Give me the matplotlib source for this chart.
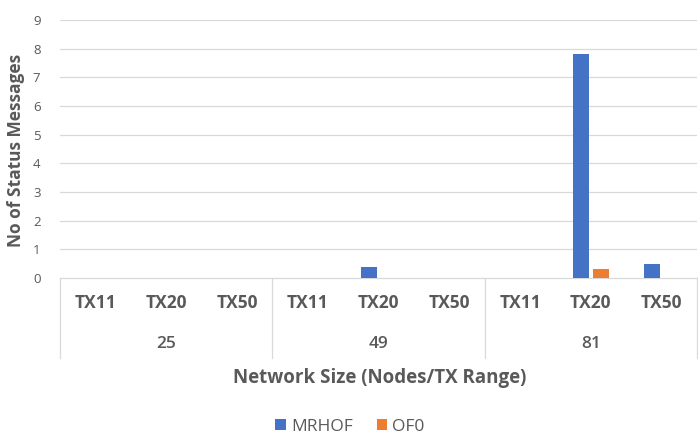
import matplotlib
matplotlib.use('Agg')
import matplotlib.pyplot as plt
import matplotlib.transforms as mtransforms
import numpy as np

# Data
groups = ['25', '49', '81']
ranges = ['TX11', 'TX20', 'TX50']
mrhof = [0, 0, 0, 0, 0.4, 0, 0, 7.8, 0.5]
of0 = [0, 0, 0, 0, 0, 0, 0, 0.3, 0]

blue = '#4472C4'
orange = '#ED7D31'
grid_col = '#D9D9D9'
text_col = '#595959'

plt.rcParams['font.family'] = ['Open Sans', 'DejaVu Sans']

fig = plt.figure(figsize=(6.98, 4.36), dpi=100)
ax = fig.add_axes([60 / 698, 158 / 436, 637 / 698, 258 / 436])

x = np.arange(len(mrhof))
w = 0.225
ax.bar(x - 0.139, mrhof, w, color=blue, label='MRHOF', zorder=3)
ax.bar(x + 0.139, of0, w, color=orange, label='OF0', zorder=3)

ax.set_xlim(-0.5, len(mrhof) - 0.5)
ax.set_ylim(0, 9)
ax.set_yticks(range(0, 10))
ax.tick_params(axis='y', length=0, labelsize=9.5, labelcolor=text_col, pad=14)
ax.set_xticks([])
for yv in range(1, 10):
    ax.axhline(yv, color=grid_col, lw=0.9, zorder=1)
for s in ['top', 'right', 'left']:
    ax.spines[s].set_visible(False)
ax.spines['bottom'].set_color(grid_col)
ax.spines['bottom'].set_linewidth(0.9)

# Multi-level category axis
trans = mtransforms.blended_transform_factory(ax.transData, ax.transAxes)
px = 1 / 258  # one pixel in axes fraction (vertical)
for i, lab in enumerate(ranges * len(groups)):
    ax.text(i, -25 * px, lab, transform=trans, ha='center', va='center',
            fontsize=12.5, color=text_col, fontweight='bold')
for g, lab in enumerate(groups):
    ax.text(g * 3 + 1, -66 * px, lab, transform=trans, ha='center', va='center',
            fontsize=12.5, color=text_col, fontweight='semibold')
for b in [-0.5, 2.5, 5.5, 8.5]:
    ax.plot([b, b], [0, -80 * px], transform=trans, color=grid_col, lw=0.9,
            clip_on=False)

fig.text(16 / 698, 1 - 150 / 436, 'No of Status Messages', rotation=90,
         ha='center', va='center', fontsize=12.5, color=text_col,
         fontweight='bold')
fig.text(380 / 698, 1 - 378 / 436, 'Network Size (Nodes/TX Range)', ha='center',
         va='center', fontsize=13.5, color=text_col, fontweight='bold')

fig.legend(loc='center', bbox_to_anchor=(350 / 698, 1 - 427 / 436), ncol=2,
           frameon=False, fontsize=12.5, handlelength=0.6, handleheight=0.6,
           columnspacing=1.4, handletextpad=0.3, labelcolor=text_col)

fig.savefig('out.png', dpi=100)
